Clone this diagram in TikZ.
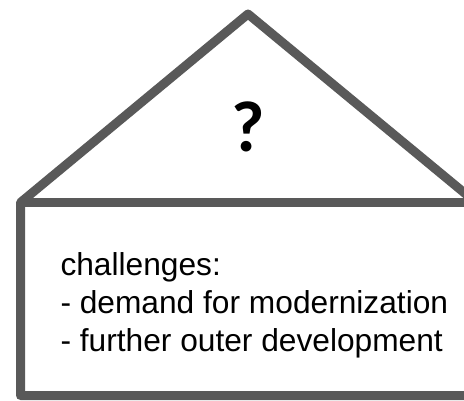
\documentclass[tikz,border=0pt]{standalone}
\usepackage{fontspec}
\setmainfont{Liberation Sans}
\newfontfamily\qfont{Carlito}
\definecolor{housegray}{HTML}{595959}
\begin{document}
\begin{tikzpicture}[x=1pt,y=-1pt,
  houseline/.style={draw=housegray,line width=9pt,line join=round},
  bodytext/.style={inner sep=0pt,outer sep=0pt,align=left,anchor=base west,font=\fontsize{31.7}{38.3}\selectfont}]
\useasboundingbox (0,0) rectangle (464,401);
\clip (0,0) rectangle (464,401);
\fill[white] (0,0) rectangle (464,401);
\coordinate (bl) at (20.5,395.5);
\coordinate (el) at (20.5,202.5);
\coordinate (apex) at (248,14);
\coordinate (er) at (476,202.5);
\coordinate (br) at (476,395.5);
\draw[houseline] (bl) -- (el) -- (apex) -- (er) -- (br) -- cycle;
\draw[houseline] (el) -- (er);
\node[inner sep=0pt,anchor=base,font=\qfont\bfseries\fontsize{72}{80}\selectfont] (q) at (248,151.5) {?};
\node[bodytext] (txt) at (60.5,351.6) {challenges:\\- demand for modernization\\- further outer development};
\end{tikzpicture}
\end{document}
